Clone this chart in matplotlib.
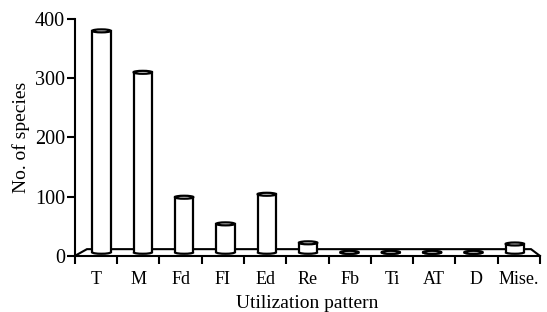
import matplotlib
matplotlib.use("Agg")
import matplotlib.pyplot as plt
from matplotlib.patches import Ellipse, Rectangle, Arc
import numpy as np

plt.rcParams['font.family'] = ['Liberation Serif', 'DejaVu Serif']

categories = ['T', 'M', 'Fd', 'FI', 'Ed', 'Re', 'Fb', 'Ti', 'AT', 'D', 'Mise.']
species = [380, 310, 99, 54, 104, 22, 3, 4, 4, 4, 20]

fig = plt.figure(figsize=(5.47, 3.12), dpi=100)
ax = fig.add_axes([0.137, 0.18, 0.85, 0.759])

n = len(categories)
ax.set_xlim(0, n)
ax.set_ylim(0, 400)

# 3D floor outline
floor_y = 11.3
ax.plot([0, 0.284, 10.79, n], [0, floor_y, floor_y, 0], color='black', lw=1.5,
        clip_on=False, zorder=1, solid_joinstyle='miter')

# cylinders
bw = 0.435
eh = 5.0
base = 6.0
xs = 0.627 + 0.978 * np.arange(n)
for x, v in zip(xs, species):
    top = max(v, base)
    ax.add_patch(Rectangle((x - bw / 2, base), bw, top - base, facecolor='white',
                           edgecolor='none', zorder=2))
    ax.add_patch(Ellipse((x, base), bw, eh, facecolor='white', edgecolor='none', zorder=2))
    ax.add_patch(Arc((x, base), bw, eh, theta1=180, theta2=360, color='black', lw=1.6, zorder=3))
    ax.plot([x - bw / 2, x - bw / 2], [base, top], color='black', lw=1.6, zorder=3)
    ax.plot([x + bw / 2, x + bw / 2], [base, top], color='black', lw=1.6, zorder=3)
    ax.add_patch(Ellipse((x, top), bw, eh, facecolor='white', edgecolor='black', lw=1.6, zorder=4))

for s in ['top', 'right']:
    ax.spines[s].set_visible(False)
for s in ['left', 'bottom']:
    ax.spines[s].set_linewidth(1.5)

ax.set_yticks([0, 100, 200, 300, 400])
ax.set_xticks(np.arange(n + 1))
ax.set_xticklabels([])
ax.set_xticks(np.arange(n) + 0.5, minor=True)
ax.set_xticklabels(categories, minor=True)
ax.tick_params(axis='x', which='minor', length=0, labelsize=13, pad=11)
ax.tick_params(axis='x', which='major', length=6, width=1.5, direction='out')
ax.tick_params(axis='y', length=6, width=1.5, direction='out', labelsize=14.5, pad=1)

ax.set_xlabel('Utilization pattern', fontsize=14, labelpad=5)
ax.set_ylabel('No. of species', fontsize=14, labelpad=4)

fig.savefig('out.png', dpi=100)
